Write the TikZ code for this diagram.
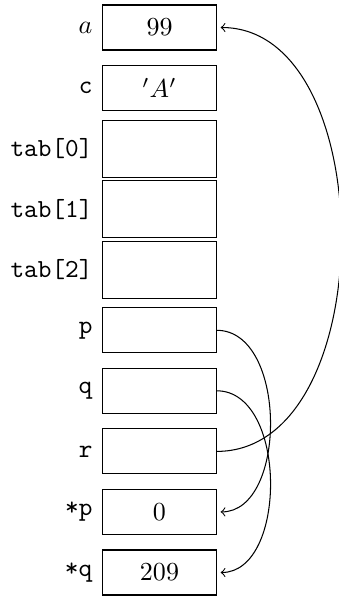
\documentclass[tikz,border=0pt]{standalone}
\begin{document}
\begin{tikzpicture}[x=0.3846pt,y=-0.3846pt,
  cell/.style={draw, line width=0.4pt, minimum width=43.65pt, minimum height=17.31pt, inner sep=0pt},
  tall/.style={cell, minimum height=21.92pt},
  lab/.style={anchor=east, inner sep=0pt},
  ptr/.style={->, line width=0.4pt, shorten >=1.5pt}]
\useasboundingbox (0,0) rectangle (339,597);
\node[cell] (a) at (159.5,27.5) {$99$};
\node[cell] (c) at (159.5,88.1) {$'A'$};
\node[tall] (t0) at (159.5,148.6) {};
\node[tall] (t1) at (159.5,209.2) {};
\node[tall] (t2) at (159.5,269.7) {};
\node[cell] (p) at (159.5,330.3) {};
\node[cell] (q) at (159.5,390.8) {};
\node[cell] (r) at (159.5,451.4) {};
\node[cell] (sp) at (159.5,511.9) {$0$};
\node[cell] (sq) at (159.5,572.5) {$209$};
\node[lab] (la) at (93,27.5) {$a$};
\node[lab] (lc) at (93,88.1) {\texttt{c}};
\node[lab] (lt0) at (93,148.6) {\texttt{tab[0]}};
\node[lab] (lt1) at (93,209.2) {\texttt{tab[1]}};
\node[lab] (lt2) at (93,269.7) {\texttt{tab[2]}};
\node[lab] (lp) at (93,330.3) {\texttt{p}};
\node[lab] (lq) at (93,390.8) {\texttt{q}};
\node[lab] (lr) at (93,451.4) {\texttt{r}};
\node[lab] (lsp) at (93,511.9) {\texttt{*p}};
\node[lab] (lsq) at (93,572.5) {\texttt{*q}};
\draw[ptr] (p.east) to[out=0,in=0] (sp.east);
\draw[ptr] (q.east) to[out=0,in=0] (sq.east);
\draw[ptr] (r.east) to[out=0,in=0] (a.east);
\end{tikzpicture}
\end{document}
